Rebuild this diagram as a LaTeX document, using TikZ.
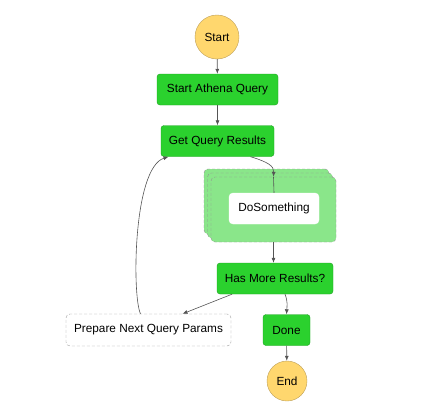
\documentclass[tikz,border=0pt]{standalone}
\usepackage{fontspec}
\setmainfont{Liberation Sans}
\usetikzlibrary{arrows.meta}

\definecolor{stategreen}{RGB}{43,209,46}
\definecolor{stateline}{RGB}{30,160,34}
\definecolor{mapgreen}{RGB}{138,230,138}
\definecolor{termfill}{RGB}{255,215,110}
\definecolor{termline}{RGB}{190,160,90}
\definecolor{edgegray}{RGB}{85,85,85}

\tikzset{
  state/.style={fill=stategreen, draw=stateline, rounded corners=3pt, minimum height=31pt, inner sep=0pt, font=\fontsize{11.8}{13}\selectfont},
  term/.style={circle, fill=termfill, draw=termline, inner sep=0pt, font=\fontsize{11.8}{13}\selectfont},
  pending/.style={fill=white, draw=gray!75, dash pattern=on 3pt off 2pt, rounded corners=4pt, minimum height=32pt, inner sep=0pt, font=\fontsize{11.8}{13}\selectfont},
  maplayer/.style={fill=mapgreen, draw=gray!85, dash pattern=on 3pt off 2pt, rounded corners=4pt, minimum width=125pt, minimum height=65pt},
  flow/.style={draw=edgegray, line width=0.6pt, -{Latex[length=5pt,width=4pt]}},
}

\begin{document}
\begin{tikzpicture}[x=1pt, y=-1pt]
			\useasboundingbox (0,0) rectangle (444,410);

			% terminal states
			\node[term, minimum size=44pt] (start) at (217,37) {Start};
			\node[term, minimum size=40pt] (end) at (287,381) {End};

			% task states
			\node[state, minimum width=121pt] (athena) at (217.5,89.5) {Start Athena Query};
			\node[state, minimum width=113pt] (get) at (217.5,141) {Get Query Results};
			\node[state, minimum width=116pt] (has) at (275,278.5) {Has More Results?};
			\node[state, minimum width=47pt] (done) at (286.5,330) {Done};
			\node[pending, minimum width=165pt] (prep) at (148.5,330) {Prepare Next Query Params};

			% map state, stacked
			\foreach \i/\name in {2/mapback, 1/mapmid, 0/map}
				\node[maplayer] (\name) at (273.5-3.5*\i, 209.5-4*\i) {};
			\node[fill=white, draw=white, rounded corners=4pt, minimum width=90pt, minimum height=31pt, inner sep=0pt, font=\fontsize{11.8}{13}\selectfont] (dosth) at (274,208.5) {DoSomething};

			% transitions
			\draw[flow] (start) -- (athena);
			\draw[flow] (athena) -- (get);
			\draw[flow] ([xshift=33pt]get.south) .. controls (268,162) and (274,166) .. (map.north);
			\draw[draw=edgegray, line width=0.6pt] (map.north) -- (dosth.north);
			\draw[flow] (map.south) -- (map.south |- has.north);
			\draw[flow] ([xshift=-43pt]has.south) -- ([xshift=34pt]prep.north);
			\draw[flow] ([xshift=10pt]has.south) .. controls (288,302) and (287,306) .. (done.north);
			\draw[flow] (done) -- (end);
			\draw[flow] ([xshift=-8pt]prep.north) .. controls (132,296) and (133,168) .. ([xshift=-49pt]get.south);
\end{tikzpicture}
\end{document}
